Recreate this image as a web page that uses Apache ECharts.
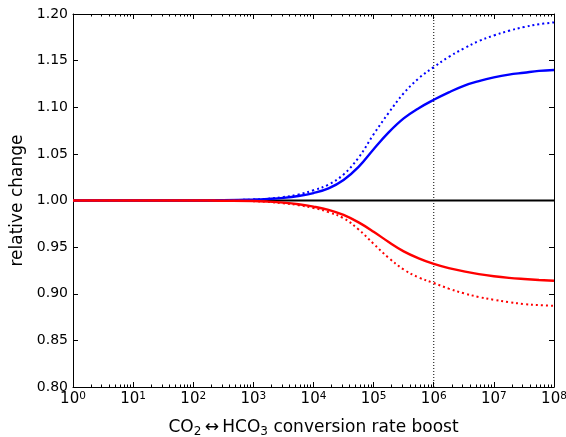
<!DOCTYPE html>
<html>
<head>
<meta charset="utf-8">
<script src="https://cdn.jsdelivr.net/npm/echarts@6/dist/echarts.min.js"></script>
<style>
  html, body { margin: 0; padding: 0; background: #fff; }
  #chart { width: 566px; height: 437px; }
</style>
</head>
<body>
<div id="chart"></div>
<script>
// Conversion-rate boost factors (quarter-decade steps from 10^2.5)
const boost = [1, 10, 100, 316, 1000, 1778, 3162, 5623, 10000, 17783, 31623, 56234, 100000,
               177828, 316228, 562341, 1000000, 1778279, 3162278, 5623413, 10000000,
               17782794, 31622777, 56234133, 100000000];

// Relative change for each configuration
const upSolid    = [1.000, 1.000, 1.000, 1.0003, 1.001, 1.0017, 1.0028, 1.0048, 1.008, 1.013, 1.022, 1.036, 1.055,
                    1.073, 1.088, 1.099, 1.108, 1.116, 1.123, 1.128, 1.132, 1.135, 1.137, 1.139, 1.140];
const upDotted   = [1.000, 1.000, 1.000, 1.0004, 1.001, 1.002, 1.0037, 1.0065, 1.011, 1.017, 1.028, 1.046, 1.071,
                    1.094, 1.115, 1.131, 1.143, 1.154, 1.163, 1.171, 1.177, 1.182, 1.186, 1.189, 1.191];
const downSolid  = [1.000, 1.000, 1.000, 0.9998, 0.9995, 0.9988, 0.9977, 0.996, 0.9935, 0.990, 0.9845, 0.9765, 0.9665,
                    0.9555, 0.9455, 0.938, 0.932, 0.9275, 0.924, 0.921, 0.9187, 0.917, 0.9158, 0.9148, 0.914];
const downDotted = [1.000, 1.000, 1.000, 0.9998, 0.9993, 0.9985, 0.997, 0.995, 0.992, 0.9875, 0.981, 0.969, 0.9535,
                    0.9385, 0.926, 0.9175, 0.9115, 0.9055, 0.9005, 0.8965, 0.8935, 0.891, 0.889, 0.8878, 0.887];
const baseline  = [1.0, 1.0];
const baselineX = [1, 100000000];
const markerBoost = 1000000;

// Axis ticks
const yTicks = [0.80, 0.85, 0.90, 0.95, 1.00, 1.05, 1.10, 1.15, 1.20];
const minorX = [];
[1, 10, 100, 1000, 10000, 100000, 1000000, 10000000].forEach(d => {
  [2, 3, 4, 5, 6, 7, 8, 9].forEach(m => minorX.push(d * m));
});

const FONT = 'DejaVu Sans';
const pair = (xs, ys) => xs.map((x, i) => [x, ys[i]]);

const logAxisBase = {
  type: 'log', logBase: 10, min: 1, max: 100000000,
  splitLine: { show: false },
  axisLine: { show: true, onZero: false, lineStyle: { color: '#000', width: 1 } }
};

const chart = echarts.init(document.getElementById('chart'), null, { renderer: 'canvas' });
chart.setOption({
  animation: false,
  backgroundColor: '#fff',
  grid: { left: 73, right: 12, top: 14, bottom: 50, containLabel: false, outerBoundsMode: 'none' },
  xAxis: [
    Object.assign({}, logAxisBase, {
      position: 'bottom',
      name: 'CO{s|2}\u2009↔\u2009HCO{s|3} conversion rate boost',
      nameLocation: 'middle',
      nameGap: 27,
      nameTextStyle: {
        fontFamily: FONT, fontSize: 17, color: '#000', lineHeight: 20,
        rich: { s: { fontFamily: FONT, fontSize: 12, lineHeight: 10, verticalAlign: 'bottom', color: '#000' } }
      },
      axisTick: { show: true, inside: true, length: 5, lineStyle: { color: '#000' } },
      axisLabel: {
        show: true, margin: 4,
        formatter: v => '{b|10}{s|' + Math.round(Math.log10(v)) + '}',
        rich: {
          b: { fontFamily: FONT, fontSize: 15, color: '#000', lineHeight: 16, verticalAlign: 'bottom' },
          s: { fontFamily: FONT, fontSize: 10.5, color: '#000', lineHeight: 10, padding: [0, 0, 11, 0], verticalAlign: 'top' }
        }
      }
    }),
    Object.assign({}, logAxisBase, {
      position: 'top',
      axisTick: { show: true, inside: true, length: 5, lineStyle: { color: '#000' } },
      axisLabel: { show: false }
    }),
    Object.assign({}, logAxisBase, {
      position: 'bottom',
      axisLine: { show: false },
      axisTick: { show: true, inside: true, length: 2.5, customValues: minorX, lineStyle: { color: '#000' } },
      axisLabel: { show: false }
    }),
    Object.assign({}, logAxisBase, {
      position: 'top',
      axisLine: { show: false },
      axisTick: { show: true, inside: true, length: 2.5, customValues: minorX, lineStyle: { color: '#000' } },
      axisLabel: { show: false }
    })
  ],
  yAxis: [
    {
      type: 'value', position: 'left', min: 0.8, max: 1.2, interval: 0.05,
      name: 'relative change', nameLocation: 'middle', nameGap: 44,
      nameTextStyle: { fontFamily: FONT, fontSize: 17, color: '#000' },
      splitLine: { show: false },
      axisLine: { show: true, onZero: false, lineStyle: { color: '#000', width: 1 } },
      axisTick: { show: true, inside: true, length: 5, lineStyle: { color: '#000' } },
      axisLabel: {
        margin: 5, fontFamily: FONT, fontSize: 14, color: '#000',
        customValues: yTicks,
        formatter: v => v.toFixed(2)
      }
    },
    {
      type: 'value', position: 'right', min: 0.8, max: 1.2, interval: 0.05,
      splitLine: { show: false },
      axisLine: { show: true, onZero: false, lineStyle: { color: '#000', width: 1 } },
      axisTick: { show: true, inside: true, length: 5, lineStyle: { color: '#000' } },
      axisLabel: { show: false }
    }
  ],
  series: [
    {
      type: 'line', name: 'reference', data: pair(baselineX, baseline),
      symbol: 'none', lineStyle: { color: '#000', width: 2.2 }, z: 2
    },
    {
      type: 'line', name: 'marker', data: [[markerBoost, 0.8], [markerBoost, 1.2]],
      symbol: 'none', lineStyle: { color: '#000', width: 1, type: [1, 2] }, z: 2
    },
    {
      type: 'line', name: 'up dotted', data: pair(boost, upDotted),
      symbol: 'none', smooth: 0.4, lineStyle: { color: '#0000ff', width: 2, type: [2, 3] }, z: 3
    },
    {
      type: 'line', name: 'up solid', data: pair(boost, upSolid),
      symbol: 'none', smooth: 0.4, lineStyle: { color: '#0000ff', width: 2.4 }, z: 3
    },
    {
      type: 'line', name: 'down dotted', data: pair(boost, downDotted),
      symbol: 'none', smooth: 0.4, lineStyle: { color: '#ff0000', width: 2, type: [2, 3] }, z: 3
    },
    {
      type: 'line', name: 'down solid', data: pair(boost, downSolid),
      symbol: 'none', smooth: 0.4, lineStyle: { color: '#ff0000', width: 2.4 }, z: 3
    }
  ]
});
</script>
</body>
</html>
